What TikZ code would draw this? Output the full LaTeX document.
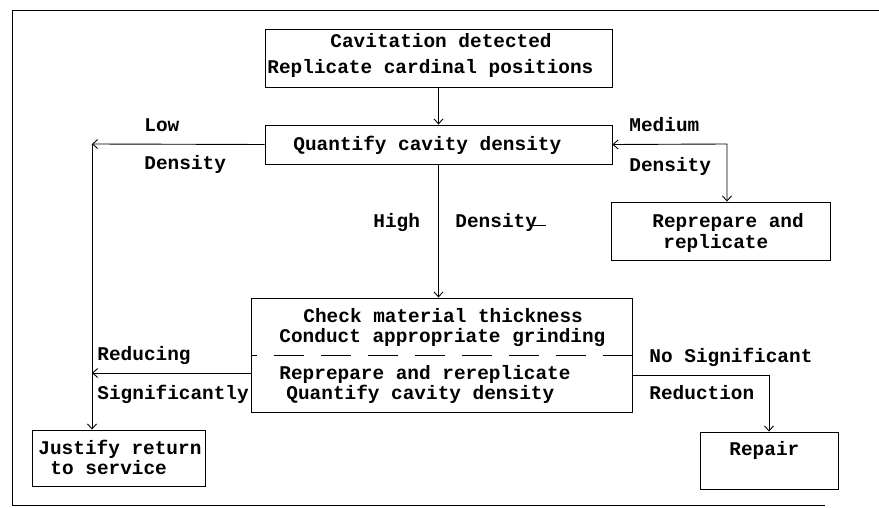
\documentclass[tikz,border=0pt]{standalone}
\usepackage{fontspec}
\setmonofont{Liberation Mono}
\usetikzlibrary{arrows.meta}
\begin{document}
\begin{tikzpicture}[x=1pt,y=-1pt,
  font=\ttfamily\bfseries\fontsize{19.4}{26}\selectfont,
  line width=0.9pt,
  box/.style={draw, rectangle, inner sep=0pt},
  txt/.style={anchor=mid west, inner sep=0pt, yshift=-3pt},
  arr/.style={-{Straight Barb[length=5pt,width=9pt]}},
  darr/.style={{Straight Barb[length=5pt,width=9pt]}-{Straight Barb[length=5pt,width=9pt]}}]
\useasboundingbox (0,0) rectangle (879,508);
% outer frame
\draw[line width=0.8pt] (879,10) -- (12,10) -- (12,505) -- (825,505);

% boxes
\node[box, minimum width=347pt, minimum height=58pt] (b1) at (438.5,58) {};
\node[box, minimum width=347pt, minimum height=39pt] (b2) at (438.5,144.5) {};
\node[box, minimum width=219pt, minimum height=58pt] (rep) at (720.5,231) {};
\node[box, minimum width=381pt, minimum height=114pt] (b3) at (441.5,355) {};
\node[box, minimum width=173pt, minimum height=56pt] (jus) at (118.5,458) {};
\node[box, minimum width=138pt, minimum height=57pt] (repair) at (769,460.5) {};

% box texts
\node[txt] (t1a) at (330,42) {Cavitation detected};
\node[txt] (t1b) at (267,68) {Replicate cardinal positions};
\node[txt] (t2) at (293,145) {Quantify cavity density};
\node[txt] (tra) at (652,222) {Reprepare and};
\node[txt] (trb) at (663,243) {replicate};
\node[txt] (t3a) at (303,317) {Check material thickness};
\node[txt] (t3b) at (279,337) {Conduct appropriate grinding};
\node[txt] (t3c) at (279,374) {Reprepare and rereplicate};
\node[txt] (t3d) at (286,394) {Quantify cavity density};
\node[txt] (tja) at (38,449) {Justify return};
\node[txt] (tjb) at (50,469) {to service};
\node[txt] (trp) at (729,450) {Repair};

% dashed separator
\draw[dash pattern=on 30pt off 17pt, dash phase=24pt] (b3.west) -- (b3.east);

% coordinates
\coordinate (lowc) at (92,144);
\coordinate (medc) at (727,144);
\coordinate (redst) at ([yshift=-18pt]b3.west);
\coordinate (nost) at ([yshift=-20pt]b3.east);

% connectors
\draw[arr] (b1.south) -- (b2.north);
\draw[arr] (b2.south) -- (b2.south |- b3.north);
\draw[arr] (b2.west) -- (lowc);
\draw[arr] (lowc) -- (lowc |- jus.north);
\draw[darr] (b2.east) -- (medc) -- (medc |- rep.north);
\draw[arr] (redst) -- (lowc |- redst);
\draw[arr] (nost) -| (repair.north);

% labels
\node[txt] (lLow) at (144,126) {Low};
\node[txt] (lLowD) at (144,164) {Density};
\node[txt] (lHigh) at (373,222) {High};
\node[txt] (lHighD) at (455,222) {Density};
\draw[line width=0.8pt] (533,225) -- ++(13,0);
\node[txt] (lMed) at (629,126) {Medium};
\node[txt] (lMedD) at (629,166) {Density};
\node[txt] (lRed) at (97,355) {Reducing};
\node[txt] (lSig) at (97,394) {Significantly};
\node[txt] (lNo) at (649,357) {No Significant};
\node[txt] (lRdn) at (649,394) {Reduction};
\end{tikzpicture}
\end{document}
